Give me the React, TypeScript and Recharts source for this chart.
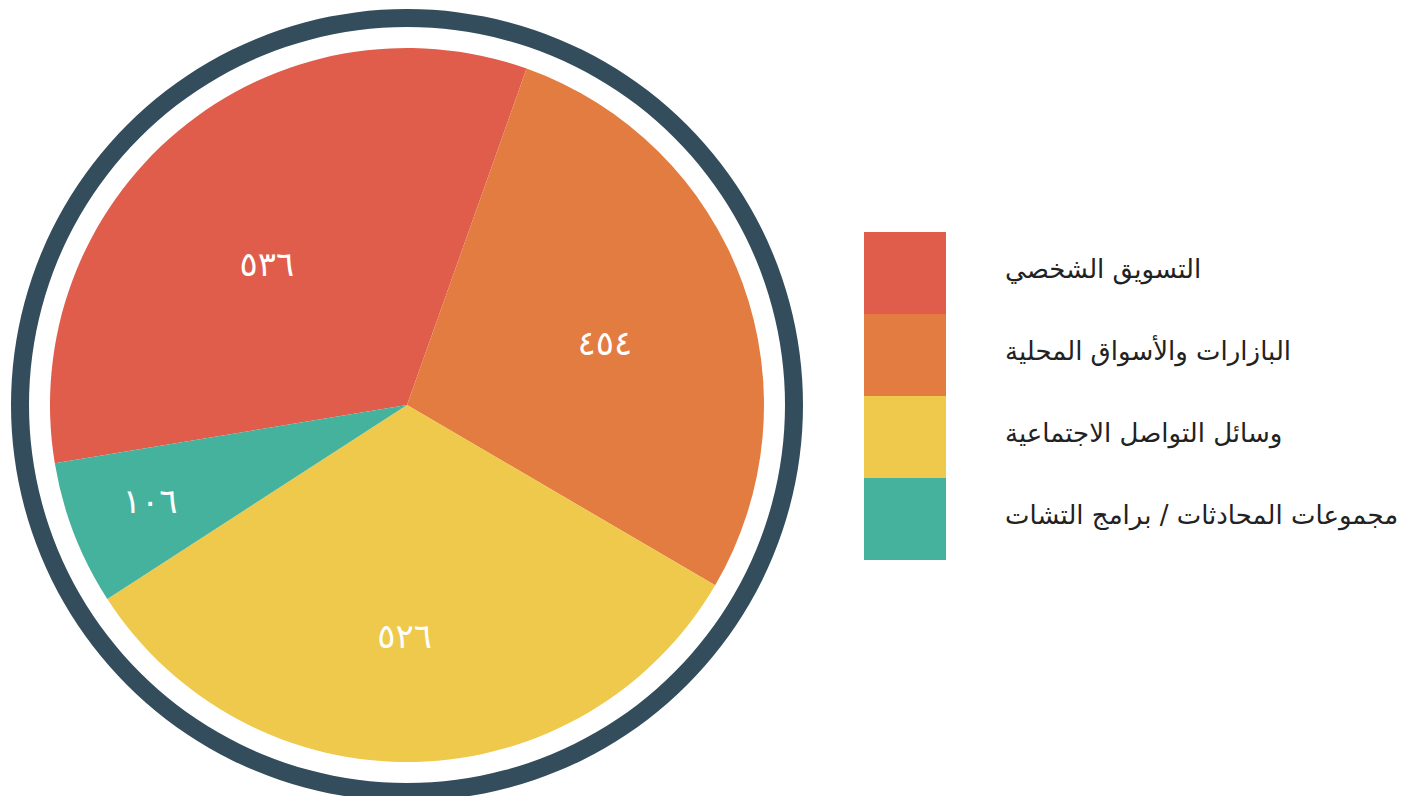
import React from 'react';
import { PieChart, Pie, Cell, Legend } from 'recharts';

const categories = [
  'التسويق الشخصي',
  'البازارات والأسواق المحلية',
  'وسائل التواصل الاجتماعية',
  'مجموعات المحادثات / برامج التشات',
];
const values = [536, 454, 526, 106];
const colors = ['#E05C4B', '#E37C40', '#EFC94C', '#45B29D'];
// label placement: share of the pie radius, and a small turn off the mid angle (degrees)
const labelRadius = [0.557, 0.581, 0.647, 0.768];
const labelTurn = [4.9, -2.6, -1.9, -0.75];

const RING = '#334D5C';
const FONT = '"DejaVu Sans", sans-serif';
const RADIAN = Math.PI / 180;

const pieData = categories.map((name, i) => ({ name, value: values[i] }));
const ringData = [{ name: 'ring', value: 1 }];

const toArabicDigits = (n: number) =>
  String(n).replace(/[0-9]/g, (d) => '٠١٢٣٤٥٦٧٨٩'[Number(d)]);

const renderLabel = (props: any) => {
  const { cx, cy, midAngle, outerRadius, index, value } = props;
  const r = outerRadius * labelRadius[index];
  const a = (midAngle + labelTurn[index]) * RADIAN;
  const x = cx + r * Math.cos(-a);
  const y = cy + r * Math.sin(-a);
  return (
    <text
      x={x}
      y={y}
      fill="#fff"
      fontSize={34}
      fontFamily={FONT}
      letterSpacing={2}
      textAnchor="middle"
      dominantBaseline="central"
    >
      {toArabicDigits(value)}
    </text>
  );
};

const LegendContent = () => (
  <div style={{ display: 'flex', flexDirection: 'column' }}>
    {categories.map((name, i) => (
      <div key={name} style={{ display: 'flex', alignItems: 'center', height: 82 }}>
        <div style={{ width: 82, height: 82, background: colors[i] }} />
        <span
          style={{
            marginLeft: 59,
            marginTop: -8,
            fontFamily: FONT,
            fontSize: 26,
            color: '#222',
            whiteSpace: 'nowrap',
            direction: 'rtl',
          }}
        >
          {name}
        </span>
      </div>
    ))}
  </div>
);

export default function App() {
  return (
    <div style={{ position: 'absolute', left: 0, top: 0, width: 1413, height: 796, background: '#fff' }}>
      <PieChart width={1413} height={796} margin={{ top: 0, right: 0, bottom: 0, left: 0 }}>
        <Pie
          data={ringData}
          dataKey="value"
          cx={407}
          cy={405}
          innerRadius={378}
          outerRadius={396}
          fill={RING}
          stroke="none"
          isAnimationActive={false}
        />
        <Pie
          data={pieData}
          dataKey="value"
          nameKey="name"
          cx={407}
          cy={405}
          outerRadius={357}
          startAngle={-170.6}
          endAngle={-530.6}
          stroke="none"
          label={renderLabel}
          labelLine={false}
          isAnimationActive={false}
        >
          {pieData.map((d, i) => (
            <Cell key={d.name} fill={colors[i]} />
          ))}
        </Pie>
        <Legend
          content={<LegendContent />}
          wrapperStyle={{ position: 'absolute', left: 864, top: 232, width: 540 }}
        />
      </PieChart>
    </div>
  );
}
